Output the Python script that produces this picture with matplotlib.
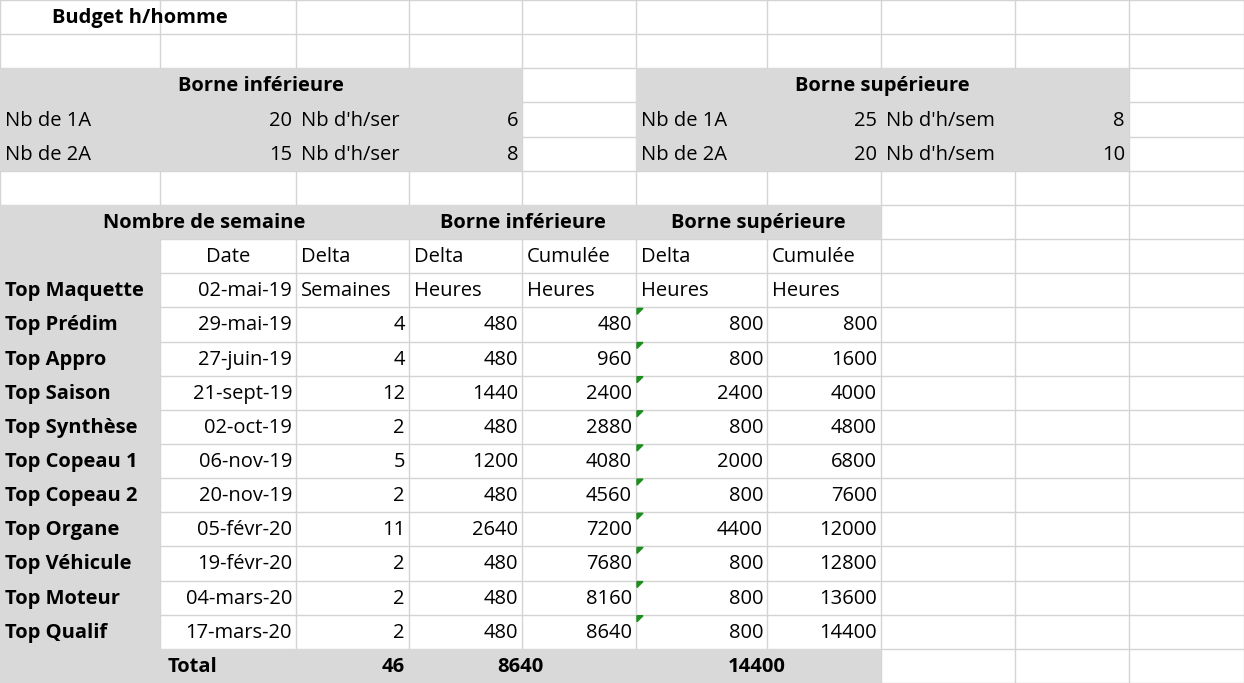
import matplotlib.pyplot as plt
from matplotlib.patches import Rectangle, Polygon

# column edges and row height (pixels of the sheet)
COLS = [0, 160, 296, 409, 522, 636, 767, 881, 1015, 1129, 1244]
ROW_H = 34.15
N_ROWS = 20

milestones = ['Top Maquette', 'Top Prédim', 'Top Appro', 'Top Saison', 'Top Synthèse',
              'Top Copeau 1', 'Top Copeau 2', 'Top Organe', 'Top Véhicule', 'Top Moteur', 'Top Qualif']
dates = ['02-mai-19', '29-mai-19', '27-juin-19', '21-sept-19', '02-oct-19', '06-nov-19',
         '20-nov-19', '05-févr-20', '19-févr-20', '04-mars-20', '17-mars-20']
weeks = [4, 4, 12, 2, 5, 2, 11, 2, 2, 2]
low_delta = [480, 480, 1440, 480, 1200, 480, 2640, 480, 480, 480]
low_cum = [480, 960, 2400, 2880, 4080, 4560, 7200, 7680, 8160, 8640]
high_delta = [800, 800, 2400, 800, 2000, 800, 4400, 800, 800, 800]
high_cum = [800, 1600, 4000, 4800, 6800, 7600, 12000, 12800, 13600, 14400]

GRAY = '#d9d9d9'
GRID = '#d4d4d4'
FS = 14.5
plt.rcParams['font.family'] = ['Open Sans', 'DejaVu Sans']

fig = plt.figure(figsize=(12.44, 6.83), dpi=100)
ax = fig.add_axes([0, 0, 1, 1])
ax.set_xlim(0, 1244)
ax.set_ylim(683, 0)
ax.axis('off')

# grid
for x in COLS:
    ax.plot([x, x], [0, 683], color=GRID, lw=1)
for r in range(N_ROWS + 1):
    ax.plot([0, 1244], [r * ROW_H, r * ROW_H], color=GRID, lw=1)

def fill(c0, c1, r0, r1):
    ax.add_patch(Rectangle((COLS[c0], r0 * ROW_H), COLS[c1] - COLS[c0], (r1 - r0) * ROW_H,
                           facecolor=GRAY, edgecolor='none', zorder=2))

fill(0, 4, 2, 5)
fill(5, 9, 2, 5)
fill(0, 7, 6, 7)
fill(0, 1, 6, 20)
fill(0, 7, 19, 20)

def cell(c, r, s, ha='left', bold=False, c_end=None, dx=0):
    yc = r * ROW_H + ROW_H / 2 + 1
    if ha == 'left':
        x = COLS[c] + 5
    elif ha == 'right':
        x = COLS[c + 1] - 4
    else:
        x = (COLS[c] + COLS[(c_end if c_end else c) + 1]) / 2
    ax.text(x + dx, yc, str(s), ha=ha, va='center', fontsize=FS,
            fontweight='bold' if bold else 'normal', zorder=4)

cell(0, 0, 'Budget h/homme', bold=True, dx=47)
cell(0, 2, 'Borne inférieure', ha='center', bold=True, c_end=3)
cell(5, 2, 'Borne supérieure', ha='center', bold=True, c_end=8)
cell(0, 3, 'Nb de 1A'); cell(1, 3, 20, 'right'); cell(2, 3, "Nb d'h/ser"); cell(3, 3, 6, 'right')
cell(0, 4, 'Nb de 2A'); cell(1, 4, 15, 'right'); cell(2, 4, "Nb d'h/ser"); cell(3, 4, 8, 'right')
cell(5, 3, 'Nb de 1A'); cell(6, 3, 25, 'right'); cell(7, 3, "Nb d'h/sem"); cell(8, 3, 8, 'right')
cell(5, 4, 'Nb de 2A'); cell(6, 4, 20, 'right'); cell(7, 4, "Nb d'h/sem"); cell(8, 4, 10, 'right')

cell(0, 6, 'Nombre de semaine', ha='center', bold=True, c_end=2)
cell(3, 6, 'Borne inférieure', ha='center', bold=True, c_end=4)
cell(5, 6, 'Borne supérieure', ha='center', bold=True, c_end=6)
cell(1, 7, 'Date', ha='center')
for c, s in zip(range(2, 7), ['Delta', 'Delta', 'Cumulée', 'Delta', 'Cumulée']):
    cell(c, 7, s)
cell(2, 8, 'Semaines')
for c in range(3, 7):
    cell(c, 8, 'Heures')

for i, (m, d) in enumerate(zip(milestones, dates)):
    r = 8 + i
    cell(0, r, m, bold=True)
    cell(1, r, d, 'right')
    if i == 0:
        continue
    cell(2, r, weeks[i - 1], 'right')
    cell(3, r, low_delta[i - 1], 'right')
    cell(4, r, low_cum[i - 1], 'right')
    cell(5, r, high_delta[i - 1], 'right')
    cell(6, r, high_cum[i - 1], 'right')
    # green error marker
    x0, y0 = COLS[5] + 1, r * ROW_H + 1
    ax.add_patch(Polygon([[x0, y0], [x0 + 6, y0], [x0, y0 + 6]], color='#1e8c1e', zorder=5))

cell(1, 19, 'Total', ha='center', bold=True, dx=-35)
cell(2, 19, sum(weeks), 'right', bold=True)
ax.text(520, 19 * ROW_H + 18, str(low_cum[-1]), ha='center', va='center',
        fontsize=FS, fontweight='bold', zorder=4)
ax.text(757, 19 * ROW_H + 18, str(high_cum[-1]), ha='center', va='center',
        fontsize=FS, fontweight='bold', zorder=4)

fig.savefig('out.png', dpi=100)
